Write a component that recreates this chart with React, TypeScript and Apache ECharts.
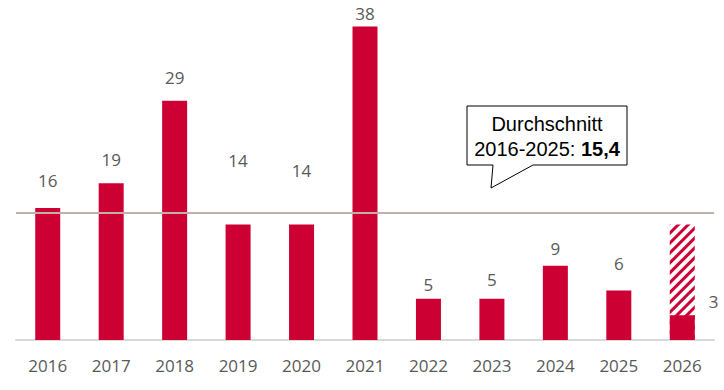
import React, { useEffect, useRef } from "react";
import * as echarts from "echarts";

const years = ["2016", "2017", "2018", "2019", "2020", "2021", "2022", "2023", "2024", "2025", "2026"];
const counts = [16, 19, 29, 14, 14, 38, 5, 5, 9, 6, 3];
const projectionYear = "2026";
const projectionTotal = 14;
const average = 15.4;
const averageText = "15,4";
const averagePeriod = "2016-2025";

// label vertical offsets (style only)
const labelOffsetY = [-14, -10, -10, -51, -41, 0, -1, -6, -4, -14, 0];

export default function App() {
  const ref = useRef<HTMLDivElement>(null);
  useEffect(() => {
    if (!ref.current) return;
    const chart = echarts.init(ref.current, undefined, { renderer: "svg" });
    const red = "#cc0033";
    const gray = "#595959";
    const solidData = counts.map((v, i) => {
      const last = i === counts.length - 1;
      return {
        value: v,
        label: last
          ? { show: true, position: "right", offset: [9, -26] }
          : { show: true, position: "top", offset: [0, labelOffsetY[i]] },
      };
    });
    const hatchData = years.map((y) => (y === projectionYear ? projectionTotal : "-"));
    const calloutFont = "20px 'Liberation Sans', Arial, sans-serif";
    chart.setOption({
      animation: false,
      grid: { left: 16, right: 10, top: 10, bottom: 50, containLabel: false },
      xAxis: {
        type: "category",
        data: years,
        axisLine: { lineStyle: { color: "#d9d9d9", width: 2 } },
        axisTick: { show: false },
        axisLabel: { color: gray, fontSize: 17, fontFamily: "Open Sans", margin: 17 },
      },
      yAxis: {
        type: "value",
        min: 0,
        max: 40,
        show: false,
        splitLine: { show: false },
      },
      series: [
        {
          type: "bar",
          name: "Prognose",
          data: hatchData,
          barWidth: 25,
          barGap: "-100%",
          itemStyle: {
            color: "#ffffff",
            decal: {
              symbol: "rect",
              color: red,
              dashArrayX: [1, 0],
              dashArrayY: [3, 4],
              rotation: -Math.PI / 4,
            },
          },
          silent: true,
        },
        {
          type: "bar",
          name: "Anzahl",
          data: solidData,
          barWidth: 25,
          barGap: "-100%",
          itemStyle: { color: red },
          label: {
            show: true,
            color: gray,
            fontSize: 17,
            fontFamily: "Open Sans",
          },
          markLine: {
            silent: true,
            symbol: "none",
            label: { show: false },
            lineStyle: { color: "#bfb1a9", width: 2, type: "solid" },
            data: [{ yAxis: average }],
          },
        },
      ],
      graphic: [
        {
          type: "polygon",
          shape: {
            points: [
              [467, 106],
              [627, 106],
              [627, 165],
              [533, 165],
              [491, 188],
              [493, 165],
              [467, 165],
            ],
          },
          style: { fill: "#ffffff", stroke: "#000000", lineWidth: 1 },
          z: 100,
        },
        {
          type: "text",
          x: 547,
          y: 124,
          z: 101,
          style: {
            text: "Durchschnitt",
            fill: "#000000",
            font: calloutFont,
            align: "center",
            verticalAlign: "middle",
          },
        },
        {
          type: "text",
          x: 547,
          y: 149,
          z: 101,
          style: {
            text: averagePeriod + ": {b|" + averageText + "}",
            fill: "#000000",
            font: calloutFont,
            align: "center",
            verticalAlign: "middle",
            rich: {
              b: {
                fontWeight: "bold",
                fontSize: 20,
                fontFamily: "'Liberation Sans', Arial, sans-serif",
                fill: "#000000",
              },
            },
          },
        },
      ],
    });
    return () => chart.dispose();
  }, []);
  return (
    <div
      ref={ref}
      style={{ position: "absolute", left: 0, top: 0, width: 724, height: 390 }}
    />
  );
}
